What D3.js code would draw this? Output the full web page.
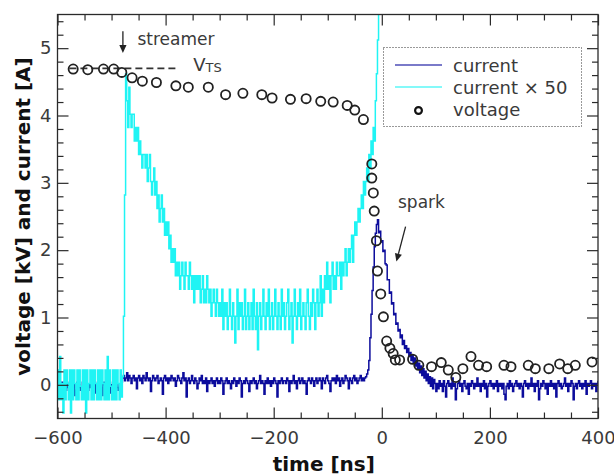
<!DOCTYPE html>
<html>
<head>
<meta charset="utf-8">
<script src="https://cdn.jsdelivr.net/npm/d3@7"></script>
<style>
  html, body { margin: 0; padding: 0; background: #fff; }
  svg { display: block; font-family: "DejaVu Sans", sans-serif; }
</style>
</head>
<body>
<svg id="chart" width="614" height="475"></svg>
<script>
// ---- data -------------------------------------------------------------
// Scope traces, sampled every 2 ns starting at -600 ns.
const sampleStart = -600;
const sampleStep = 2;

// Current [A] (full-range channel), -600 ... 400 ns
const current = [
  // -600 ... -482
  -0.04,0.00,-0.08,-0.04,0.04,-0.12,-0.20,-0.08,0.00,-0.04,
  -0.08,0.04,0.00,-0.12,-0.04,0.00,-0.16,-0.08,0.04,-0.04,
  0.00,-0.08,-0.04,0.04,-0.12,0.00,-0.04,-0.20,-0.08,0.00,
  -0.04,0.04,-0.08,-0.04,0.00,-0.12,-0.04,0.04,0.00,-0.08,
  -0.04,-0.16,0.00,0.04,-0.04,-0.08,0.00,-0.04,0.04,-0.12,
  0.00,-0.04,-0.08,0.00,0.04,-0.04,-0.08,0.00,-0.04,0.04,
  // -480 ... -32
  0.10,0.14,0.06,0.10,0.18,0.06,0.14,0.10,0.02,0.10,0.14,0.06,0.10,-0.06,0.10,
  0.14,0.06,0.10,0.02,0.14,0.10,0.06,0.18,0.10,0.06,0.10,-0.10,0.06,0.14,0.10,
  0.06,0.10,0.14,0.02,0.06,0.10,0.06,-0.14,0.10,0.14,0.06,0.10,0.02,0.10,0.06,
  0.14,0.10,0.06,0.10,-0.02,0.06,0.14,0.10,0.06,0.02,0.10,0.18,0.06,0.10,-0.18,
  0.06,0.10,0.02,0.06,0.14,0.06,0.02,0.10,0.06,-0.06,0.02,0.10,0.06,0.14,0.02,
  0.06,0.02,0.10,-0.10,0.06,0.02,0.06,0.10,0.02,0.06,-0.02,0.06,0.10,0.02,0.06,
  0.02,0.10,0.06,-0.14,0.02,0.06,0.10,0.02,0.06,0.02,-0.06,0.06,0.02,0.10,0.06,
  -0.02,0.06,0.02,0.10,0.06,-0.18,0.02,0.06,0.02,0.10,0.06,0.02,-0.10,0.06,0.02,
  0.06,0.10,0.02,0.06,-0.06,0.02,0.06,0.14,0.02,0.06,0.02,-0.14,0.06,0.02,0.10,
  0.02,0.06,-0.02,0.06,0.02,0.10,0.06,0.02,-0.18,0.06,0.02,0.06,0.10,0.02,0.06,
  0.06,0.02,0.10,0.06,-0.10,0.06,0.02,0.06,0.14,0.02,0.06,-0.06,0.06,0.10,0.02,
  0.06,0.10,0.02,0.06,0.02,-0.14,0.06,0.10,0.06,0.02,0.10,0.06,-0.02,0.06,0.10,
  0.02,0.06,0.10,0.06,-0.06,0.10,0.06,0.02,0.10,0.14,0.06,0.02,-0.10,0.06,0.10,
  0.06,0.10,0.02,0.14,0.06,0.10,-0.02,0.06,0.10,0.02,0.06,0.14,0.10,0.06,-0.06,
  0.10,0.06,0.02,0.10,0.14,0.06,0.10,0.02,0.06,0.10,0.14,0.06,0.10,0.06,0.10,
  // -30 ... 100 (spark pulse)
  0.12,0.16,0.22,0.36,0.70,1.05,1.40,1.75,2.05,2.25,2.38,2.45,
  2.26,2.28,2.12,2.14,1.98,2.00,1.80,1.78,1.56,1.56,1.36,1.38,1.20,1.22,
  1.04,1.06,0.90,0.92,0.80,0.82,0.70,0.74,0.60,0.66,0.54,0.58,0.48,0.54,
  0.42,0.48,0.36,0.44,0.32,0.40,0.28,0.36,0.24,0.32,0.18,0.28,0.14,0.24,
  0.10,0.20,0.06,0.16,0.02,0.12,-0.02,0.10,-0.06,0.08,0.02,-0.10,
  // 102 ... 400
  0.02,-0.06,0.06,-0.02,0.02,-0.10,0.06,-0.02,-0.18,0.02,0.06,-0.02,0.02,-0.06,0.10,
  -0.02,0.02,-0.22,-0.06,0.02,0.06,-0.02,0.02,-0.10,0.02,0.06,-0.02,-0.06,0.02,-0.14,
  0.02,-0.02,0.06,0.02,-0.06,0.02,-0.02,0.10,-0.02,0.02,-0.10,0.02,-0.02,0.06,-0.06,
  0.02,-0.18,-0.02,0.02,0.06,-0.02,0.02,-0.06,0.02,-0.02,0.06,-0.10,0.02,-0.02,0.02,
  -0.06,0.02,-0.14,-0.22,-0.02,0.02,-0.06,0.06,-0.02,0.02,-0.10,-0.02,0.02,0.06,-0.02,
  0.02,-0.06,0.02,-0.02,-0.18,0.02,0.06,-0.02,0.02,-0.06,0.02,-0.02,0.10,-0.02,0.02,
  -0.10,0.02,-0.02,0.06,-0.22,-0.06,0.02,-0.02,0.06,0.02,-0.06,0.02,-0.14,0.02,-0.02,
  0.06,-0.02,0.02,-0.06,0.02,-0.18,0.02,0.06,-0.02,0.02,-0.06,-0.02,0.02,0.10,-0.02,
  0.02,-0.10,0.02,-0.02,0.06,0.02,-0.22,-0.02,0.02,-0.06,0.02,0.06,-0.02,0.02,-0.06,
  0.02,-0.02,0.06,-0.14,0.02,-0.02,0.02,0.06,-0.06,0.02,-0.02,0.02,-0.10,0.02,0.06
];

// Current x 50 (sensitive channel), -600 ... -4 ns
const current50 = [
  // -600 ... -482
  0.22,-0.22,0.42,-0.22,0.02,-0.42,0.22,-0.22,0.22,0.02,
  -0.22,0.22,-0.42,0.22,-0.22,0.22,0.02,-0.22,0.22,-0.22,
  0.22,-0.02,-0.22,0.22,-0.22,0.22,-0.42,0.22,-0.22,0.02,
  0.22,-0.22,0.22,-0.22,0.22,0.02,-0.22,0.22,-0.22,0.22,
  -0.22,0.22,0.02,-0.22,0.22,-0.22,0.42,-0.22,0.22,-0.02,
  -0.22,0.22,-0.22,0.22,-0.22,0.22,0.02,-0.22,0.22,-0.18,
  // -480 ... -4
  0.12,1.02,2.82,4.62,4.22,3.82,4.42,4.02,3.82,4.02,
  4.02,3.62,3.82,3.62,3.82,3.42,3.62,3.42,3.22,3.42,
  3.42,3.22,3.42,3.02,3.22,3.42,3.02,2.82,3.02,3.22,
  2.82,3.02,2.62,2.82,2.42,2.62,2.82,2.42,2.62,2.22,
  2.42,2.22,2.42,2.02,2.22,1.82,2.02,1.82,2.02,1.62,
  1.82,1.62,1.82,1.42,1.62,1.82,1.62,1.42,1.82,1.62,
  1.62,1.42,1.82,1.62,1.42,1.62,1.22,1.62,1.42,1.62,
  1.42,1.62,1.22,1.42,1.62,1.22,1.42,1.22,1.62,1.42,
  1.22,1.42,1.02,1.22,1.42,1.22,1.02,1.42,1.22,1.02,
  1.22,1.02,1.42,0.82,1.22,1.02,1.22,0.82,1.02,1.42,
  1.02,0.82,1.22,1.02,0.62,1.02,1.42,0.82,1.22,1.02,
  1.22,0.82,1.02,1.42,0.82,1.02,1.22,0.82,1.02,1.22,
  0.82,1.42,1.02,0.82,1.22,0.52,1.02,1.22,0.82,1.02,
  1.42,1.02,0.82,1.22,1.02,1.42,0.82,1.02,1.22,0.82,
  1.02,1.42,1.02,0.82,1.22,1.02,0.82,1.42,1.02,1.22,
  0.82,1.02,1.22,1.42,0.82,1.02,1.22,0.62,1.02,1.42,
  1.02,0.82,1.22,1.02,1.42,0.82,1.02,1.22,1.02,0.82,
  1.22,1.42,1.02,0.82,1.22,1.02,1.42,1.22,0.82,1.22,
  1.42,1.02,1.22,1.62,1.02,1.42,1.22,1.62,1.42,1.82,
  1.42,1.62,1.22,1.62,1.82,1.42,1.62,1.42,1.82,1.62,
  1.62,1.82,1.42,1.82,1.62,1.82,2.02,1.62,1.82,2.02,
  1.82,2.02,2.22,1.82,2.22,2.42,2.22,2.42,2.62,2.42,
  2.62,2.82,2.62,3.02,2.82,3.02,3.22,3.02,3.42,3.22,
  3.62,3.42,3.82,3.62,4.22,4.62,5.12,5.62,6.22
];

// Gap voltage [kV]
const voltageTime = [
  -571,-544,-515,-496,-481,-462,-443,-417,-381,-358,-321,-289,-257,-222,-203,
  -169,-140,-113,-90,-64,-50,-34,-18.5,-18.5,-15.7,-14,-10,-8,-2,3,
  9,15,21,25,33,57,68.5,92,110,123,137,150,165,179,194,
  226,239,271,284,309,329,344,358,389
];
const voltage = [
  4.69,4.68,4.69,4.69,4.64,4.56,4.51,4.49,4.44,4.42,4.42,4.31,4.33,4.31,4.26,
  4.24,4.25,4.21,4.20,4.15,4.08,3.94,3.28,3.07,2.85,2.58,2.14,1.69,1.35,1.01,
  0.65,0.545,0.465,0.37,0.37,0.38,0.29,0.27,0.33,0.22,0.11,0.24,0.42,0.29,0.27,
  0.29,0.27,0.29,0.24,0.24,0.31,0.24,0.29,0.34
];

// Streamer threshold voltage V_TS
const vtsLevel = 4.70;
const vtsSpan = [-578, -378];

// Axis ticks
const xMajorTicks = [-600, -400, -200, 0, 200, 400];
const yMajorTicks = [0, 1, 2, 3, 4, 5];

// Legend entries
const legendLabels = ["current", "current \u00d7 50", "voltage"];

// ---- layout -----------------------------------------------------------
const svg = d3.select("#chart");
const plot = { left: 57.5, right: 598, top: 14.5, bottom: 418.5 };

const x = d3.scaleLinear().domain([-600, 400]).range([plot.left, plot.right]);
const y = d3.scaleLinear().domain([-0.5, 5.5]).range([plot.bottom, plot.top]);

const xMinorTicks = d3.range(-600, 401, 50).filter(v => !xMajorTicks.includes(v));
const yMinorTicks = d3.range(-0.4, 5.5, 0.2).map(v => +v.toFixed(1))
  .filter(v => !yMajorTicks.includes(v));

const colors = {
  current: "#0c0c9c",
  current50: "#1ff4f4",
  voltage: "#222222",
  text: "#3a3a3a",
  frame: "#2a2a2a"
};

svg.append("defs").append("clipPath").attr("id", "plot-clip")
  .append("rect")
  .attr("x", plot.left).attr("y", plot.top)
  .attr("width", plot.right - plot.left).attr("height", plot.bottom - plot.top);

// ---- traces -----------------------------------------------------------
// digitiser samples are held until the next one (staircase trace)
const line = d3.line()
  .x((d, i) => x(sampleStart + i * sampleStep))
  .y(d => y(d))
  .curve(d3.curveStepAfter);

const traces = svg.append("g").attr("clip-path", "url(#plot-clip)");

traces.append("path")
  .datum(current)
  .attr("fill", "none")
  .attr("stroke", colors.current)
  .attr("stroke-width", 1.5)
  .attr("d", line);

traces.append("path")
  .datum(current50)
  .attr("fill", "none")
  .attr("stroke", colors.current50)
  .attr("stroke-width", 1.5)
  .attr("d", line);

// V_TS dashed level
traces.append("line")
  .attr("x1", x(vtsSpan[0])).attr("x2", x(vtsSpan[1]))
  .attr("y1", y(vtsLevel)).attr("y2", y(vtsLevel))
  .attr("stroke", "#333")
  .attr("stroke-width", 1.6)
  .attr("stroke-dasharray", "7,4");

// voltage samples
traces.append("g")
  .selectAll("circle")
  .data(voltage)
  .join("circle")
  .attr("cx", (d, i) => x(voltageTime[i]))
  .attr("cy", d => y(d))
  .attr("r", 4.6)
  .attr("fill", "none")
  .attr("stroke", colors.voltage)
  .attr("stroke-width", 1.8);

// ---- axes -------------------------------------------------------------
const fmt = d3.format("");
function styleAxis(g) {
  g.select(".domain").remove();
  g.selectAll(".tick line").attr("stroke", colors.frame).attr("stroke-width", 1.2);
  g.selectAll("text").attr("fill", colors.text).attr("font-size", 18)
    .attr("font-family", "DejaVu Sans, sans-serif");
}

const axes = [
  { gen: d3.axisBottom, scale: x, pos: `translate(0,${plot.bottom})`, major: xMajorTicks, minor: xMinorTicks, labels: true },
  { gen: d3.axisTop, scale: x, pos: `translate(0,${plot.top})`, major: xMajorTicks, minor: xMinorTicks, labels: false },
  { gen: d3.axisLeft, scale: y, pos: `translate(${plot.left},0)`, major: yMajorTicks, minor: yMinorTicks, labels: true },
  { gen: d3.axisRight, scale: y, pos: `translate(${plot.right},0)`, major: yMajorTicks, minor: yMinorTicks, labels: false }
];

axes.forEach(a => {
  const major = a.gen(a.scale).tickValues(a.major).tickSize(-11)
    .tickPadding(a.gen === d3.axisBottom ? 12.5 : 6)
    .tickFormat(a.labels ? fmt : "");
  svg.append("g").attr("transform", a.pos).call(major).call(styleAxis);
  const minor = a.gen(a.scale).tickValues(a.minor).tickSize(-6).tickFormat("");
  svg.append("g").attr("transform", a.pos).call(minor).call(styleAxis);
});

// frame
svg.append("rect")
  .attr("x", plot.left).attr("y", plot.top)
  .attr("width", plot.right - plot.left).attr("height", plot.bottom - plot.top)
  .attr("fill", "none")
  .attr("stroke", colors.frame)
  .attr("stroke-width", 1.3);

// axis titles
svg.append("text")
  .attr("x", (plot.left + plot.right) / 2 - 4)
  .attr("y", 471)
  .attr("text-anchor", "middle")
  .attr("font-size", 20)
  .attr("font-weight", "bold")
  .attr("fill", "#111")
  .text("time [ns]");

svg.append("text")
  .attr("transform", `translate(30,${(plot.top + plot.bottom) / 2}) rotate(-90)`)
  .attr("text-anchor", "middle")
  .attr("font-size", 20)
  .attr("font-weight", "bold")
  .attr("fill", "#111")
  .text("voltage [kV] and current [A]");

// ---- annotations ------------------------------------------------------
function arrow(t0, v0, t1, v1) {
  const x0 = x(t0), y0 = y(v0), x1 = x(t1), y1 = y(v1);
  const ang = Math.atan2(y1 - y0, x1 - x0);
  const len = 8, half = 3.6;
  const bx = x1 - len * Math.cos(ang), by = y1 - len * Math.sin(ang);
  svg.append("line")
    .attr("x1", x0).attr("y1", y0).attr("x2", bx).attr("y2", by)
    .attr("stroke", "#222").attr("stroke-width", 1.3);
  svg.append("path")
    .attr("d", `M${x1},${y1}L${bx + half * Math.sin(ang)},${by - half * Math.cos(ang)}` +
               `L${bx - half * Math.sin(ang)},${by + half * Math.cos(ang)}Z`)
    .attr("fill", "#222");
}

arrow(-479, 5.25, -479, 4.93);
svg.append("text")
  .attr("x", x(-452)).attr("y", y(5.04))
  .attr("font-size", 17).attr("fill", colors.text)
  .text("streamer");

arrow(44, 2.35, 27, 1.83);
svg.append("text")
  .attr("x", x(30)).attr("y", y(2.63))
  .attr("font-size", 17).attr("fill", colors.text)
  .text("spark");

const vts = svg.append("text")
  .attr("x", x(-349)).attr("y", y(4.66))
  .attr("font-size", 18).attr("fill", colors.text);
vts.append("tspan").text("V");
vts.append("tspan").attr("font-size", 13).attr("dy", 1).text("TS");

// ---- legend -----------------------------------------------------------
const legend = svg.append("g");
legend.append("rect")
  .attr("x", 383.5).attr("y", 47.5)
  .attr("width", 198).attr("height", 79)
  .attr("fill", "#fff")
  .attr("stroke", "#333")
  .attr("stroke-width", 1)
  .attr("stroke-dasharray", "1,2");

const rows = legend.selectAll("g.row")
  .data(legendLabels)
  .join("g")
  .attr("class", "row")
  .attr("transform", (d, i) => `translate(0,${65 + i * 22})`);

rows.filter((d, i) => i < 2)
  .append("line")
  .attr("x1", 395).attr("x2", 442)
  .attr("y1", 0).attr("y2", 0)
  .attr("stroke", (d, i) => i === 0 ? colors.current : colors.current50)
  .attr("stroke-opacity", 0.55)
  .attr("stroke-width", 2);

rows.filter((d, i) => i === 2)
  .append("circle")
  .attr("cx", 418.5).attr("cy", 1.5)
  .attr("r", 3.4)
  .attr("fill", "none")
  .attr("stroke", "#111")
  .attr("stroke-width", 2.2);

rows.append("text")
  .attr("x", 453)
  .attr("y", 6.8)
  .attr("font-size", 18)
  .attr("fill", colors.text)
  .text(d => d);
</script>
</body>
</html>
